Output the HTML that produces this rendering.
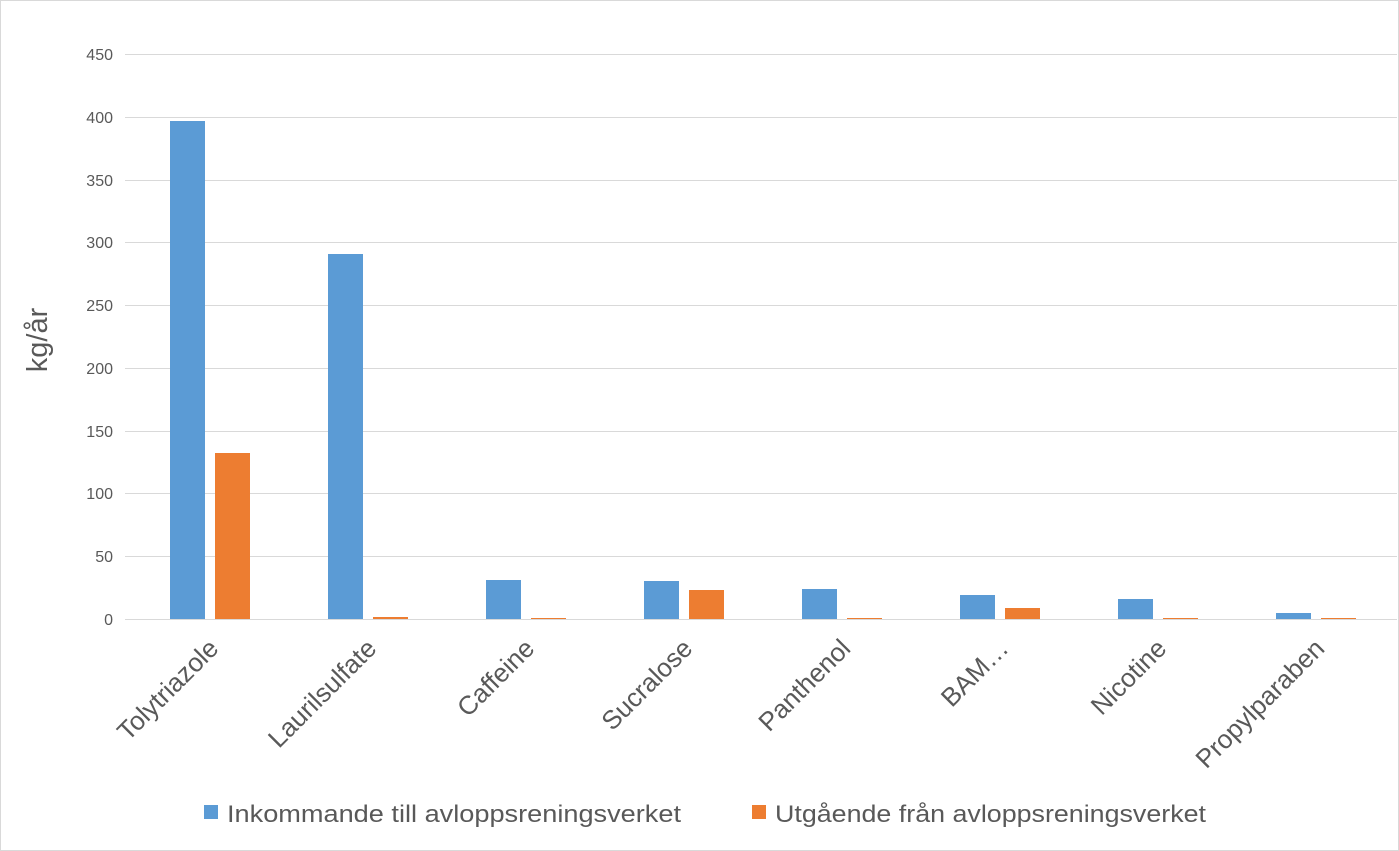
<!DOCTYPE html>
<html><head><meta charset="utf-8"><style>
html,body{margin:0;padding:0;background:#fff;}
svg{display:block;font-family:"Liberation Sans",sans-serif;}
</style></head><body>
<svg width="1399" height="851" viewBox="0 0 1399 851" xmlns="http://www.w3.org/2000/svg">
<rect x="0.5" y="0.5" width="1398" height="850" fill="#fff" stroke="#d9d9d9"/>
<g stroke="#d9d9d9" stroke-width="1">
<line x1="125" x2="1397" y1="54.5" y2="54.5"/>
<line x1="125" x2="1397" y1="117.5" y2="117.5"/>
<line x1="125" x2="1397" y1="180.5" y2="180.5"/>
<line x1="125" x2="1397" y1="242.5" y2="242.5"/>
<line x1="125" x2="1397" y1="305.5" y2="305.5"/>
<line x1="125" x2="1397" y1="368.5" y2="368.5"/>
<line x1="125" x2="1397" y1="431.5" y2="431.5"/>
<line x1="125" x2="1397" y1="493.5" y2="493.5"/>
<line x1="125" x2="1397" y1="556.5" y2="556.5"/>
<line x1="125" x2="1397" y1="619.5" y2="619.5"/>
</g>
<g font-size="16" fill="#595959" text-anchor="end">
<text x="113" y="60">450</text><text x="113" y="123">400</text><text x="113" y="186">350</text>
<text x="113" y="248">300</text><text x="113" y="311">250</text><text x="113" y="374">200</text>
<text x="113" y="437">150</text><text x="113" y="499">100</text><text x="113" y="562">50</text>
<text x="113" y="625">0</text>
</g>
<text transform="translate(47,340) rotate(-90)" font-size="29" fill="#595959" text-anchor="middle">kg/år</text>
<g fill="#5b9bd5">
<rect x="170" y="121" width="35" height="498"/>
<rect x="328" y="254" width="35" height="365"/>
<rect x="486" y="580" width="35" height="39"/>
<rect x="644" y="581" width="35" height="38"/>
<rect x="802" y="589" width="35" height="30"/>
<rect x="960" y="595" width="35" height="24"/>
<rect x="1118" y="599" width="35" height="20"/>
<rect x="1276" y="613" width="35" height="6"/>
</g>
<g fill="#ed7d31">
<rect x="215" y="453" width="35" height="166"/>
<rect x="373" y="617" width="35" height="2"/>
<rect x="531" y="618" width="35" height="1"/>
<rect x="689" y="590" width="35" height="29"/>
<rect x="847" y="618" width="35" height="1"/>
<rect x="1005" y="608" width="35" height="11"/>
<rect x="1163" y="618" width="35" height="1"/>
<rect x="1321" y="618" width="35" height="1"/>
</g>
<g font-size="26" fill="#595959" text-anchor="end">
<text transform="translate(220,650) rotate(-45)">Tolytriazole</text>
<text transform="translate(378,650) rotate(-45)">Laurilsulfate</text>
<text transform="translate(536,650) rotate(-45)">Caffeine</text>
<text transform="translate(694,650) rotate(-45)">Sucralose</text>
<text transform="translate(852,650) rotate(-45)">Panthenol</text>
<text transform="translate(1010,650) rotate(-45)">BAM…</text>
<text transform="translate(1168,650) rotate(-45)">Nicotine</text>
<text transform="translate(1326,650) rotate(-45)">Propylparaben</text>
</g>
<rect x="204" y="805" width="14" height="14" fill="#5b9bd5"/>
<text x="227" y="822" font-size="24" fill="#595959" textLength="454" lengthAdjust="spacingAndGlyphs">Inkommande till avloppsreningsverket</text>
<rect x="752" y="805" width="14" height="14" fill="#ed7d31"/>
<text x="775" y="822" font-size="24" fill="#595959" textLength="431" lengthAdjust="spacingAndGlyphs">Utgående från avloppsreningsverket</text>
</svg>
</body></html>
